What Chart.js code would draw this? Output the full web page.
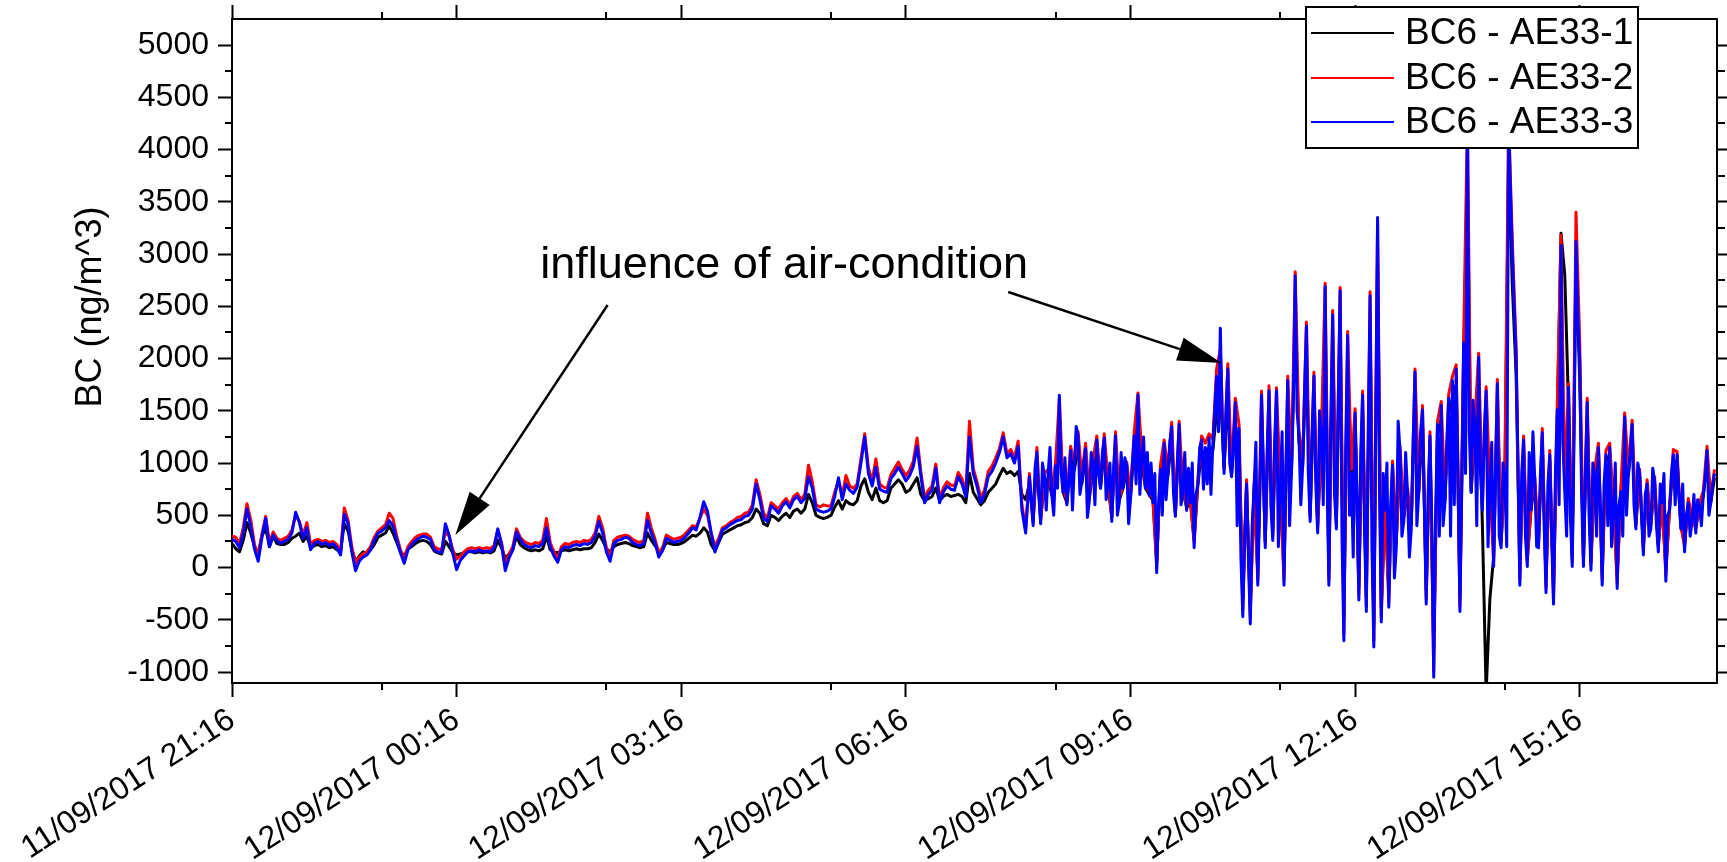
<!DOCTYPE html>
<html>
<head>
<meta charset="utf-8">
<script src="https://cdn.jsdelivr.net/npm/chart.js@4.4.0/dist/chart.umd.min.js"></script>
<style>
html,body{margin:0;padding:0;background:#fff;}
#wrap{position:relative;width:1727px;height:862px;}
</style>
</head>
<body>
<div id="wrap"><canvas id="c"></canvas></div>
<script>
// ---------- data ----------
const SAMPLE_STEP_MIN = 3;            // one reading every 3 minutes, starting 11/09/2017 21:16
const SERIES_NAMES = ['BC6 - AE33-1', 'BC6 - AE33-2', 'BC6 - AE33-3'];

const AE33_1 = [
230,180,150,260,430,330,200,140,300,380,
200,300,230,220,220,240,280,300,330,250,
300,190,210,220,200,210,190,200,170,160,
420,350,170,60,110,150,130,170,220,290,
310,330,400,330,240,150,110,180,200,230,
250,260,250,220,160,140,130,250,200,140,
120,130,140,150,150,140,150,140,150,140,
160,260,190,90,130,170,300,220,190,170,
160,170,160,180,300,170,150,140,160,170,
160,170,180,170,180,180,190,240,320,260,
180,150,200,220,230,240,230,210,200,190,
200,330,260,210,150,170,240,230,220,220,
230,250,280,310,300,330,380,340,220,160,
240,320,340,360,380,400,410,430,440,480,
560,520,420,400,500,480,450,490,520,480,
540,560,520,560,700,620,500,480,470,480,
500,580,640,560,640,610,600,640,780,850,
720,650,760,640,620,640,760,800,840,800,
720,740,800,860,700,640,660,680,760,640,
680,700,680,690,700,680,620,900,720,660,
600,640,720,760,800,880,950,900,920,880,
920,700,650,800,450,1000,460,820,850,690,
930,1450,720,620,1050,930,1150,800,1060,660,
940,1120,760,1130,790,480,1150,640,760,920,
670,1150,1450,1000,760,700,640,50,900,1100,
880,1230,520,1250,730,570,630,260,790,1120,
1080,1150,1120,1500,1700,950,1600,900,1350,1200,
-300,780,-380,740,-60,1480,250,1520,320,1520,
720,-50,1600,900,2450,1200,980,2050,500,1650,
400,1200,2350,-50,2150,430,2350,-500,1980,900,
1350,-180,1500,-280,2300,-550,2950,-380,560,-250,
940,250,1060,480,720,420,1650,720,1380,-220,
1170,-800,1260,1420,640,1480,1620,1750,-250,1950,
3800,720,1270,1800,400,-1200,-300,100,1580,250,
840,3900,2700,1850,-50,1130,90,560,800,250,
1180,-120,1020,-220,1400,3200,2800,1560,90,2950,
1800,90,1450,50,880,1080,-60,1020,1080,560,
-80,720,1320,880,1260,410,870,200,780,410,
800,220,620,-20,560,1010,1020,410,220,620,
470,380,590,680,1040,620,860
];

const AE33_2 = [
300,290,230,380,610,460,220,110,320,490,
240,340,280,260,280,300,360,500,440,310,
430,220,260,270,250,260,240,250,220,150,
570,450,200,40,100,130,150,200,290,350,
380,410,520,470,300,170,80,200,250,290,
310,320,320,290,200,180,170,340,300,170,
80,110,150,180,190,180,190,180,190,180,
210,360,240,20,130,200,370,290,250,230,
220,240,230,260,470,240,150,90,200,230,
220,240,250,240,260,250,270,330,490,380,
190,100,260,290,300,310,300,270,250,240,
260,520,380,270,140,190,310,290,270,280,
290,320,360,400,390,470,560,500,330,200,
280,380,400,430,450,480,490,520,530,600,
840,700,520,470,620,590,560,620,660,600,
680,710,650,700,980,820,600,580,600,590,
590,720,830,690,880,780,760,800,1040,1280,
950,830,1040,800,770,760,890,950,1010,940,
880,930,1020,1240,920,660,740,780,990,660,
760,820,790,780,910,850,720,1400,950,820,
670,740,920,970,1050,1140,1290,1090,1130,1050,
1210,600,380,900,430,1150,450,900,940,720,
1010,1620,760,640,1160,1010,1300,860,1190,680,
1030,1260,790,1280,830,480,1300,660,790,1010,
690,1300,1670,1090,800,720,660,0,980,1220,
930,1390,530,1400,760,590,650,240,840,1260,
1190,1280,1230,1900,2090,950,1950,910,1620,1370,
-400,840,-480,800,-120,1690,240,1740,300,1720,
760,-120,1830,940,2830,1300,1020,2350,480,1870,
380,1300,2720,-120,2460,420,2680,-640,2260,940,
1520,-260,1690,-370,2640,-700,3300,-470,590,-330,
1020,240,1160,480,760,420,1900,760,1550,-300,
1300,-990,1400,1590,660,1660,1830,1940,-370,2200,
4300,760,1410,2050,600,1730,760,60,1800,240,
900,4300,3120,2100,-120,1260,60,590,870,240,
1330,-190,1120,-300,1550,3180,770,1760,60,3400,
2150,60,1620,30,940,1190,-120,1120,1190,590,
-150,760,1480,940,1410,410,940,170,840,410,
870,200,660,-80,590,1130,1110,410,200,660,
480,370,620,730,1160,660,940
];

const AE33_3 = [
270,250,190,330,560,400,180,60,290,470,
200,310,260,230,250,270,330,530,430,280,
380,170,230,250,220,240,210,230,190,120,
510,420,150,-30,60,100,120,170,260,330,
350,380,450,400,270,140,40,170,220,260,
280,300,290,270,170,150,140,420,310,130,
-20,70,110,150,160,150,170,150,160,150,
190,370,220,-30,90,170,340,270,220,200,
190,210,200,230,380,200,110,50,170,200,
190,210,220,210,230,220,240,300,440,330,
150,60,230,260,270,290,280,240,220,210,
230,450,330,240,100,160,280,260,240,250,
260,290,330,380,360,480,630,540,330,150,
250,360,380,410,430,450,460,490,500,560,
800,650,470,440,590,560,520,590,630,570,
650,680,620,660,870,760,560,540,530,540,
560,680,860,650,800,740,710,770,1000,1250,
900,780,960,750,730,720,850,900,960,900,
830,880,970,1160,880,620,700,740,950,620,
720,780,750,740,870,800,680,1250,900,780,
620,700,870,920,1000,1100,1250,1050,1090,1000,
1160,550,330,870,400,1100,420,870,900,690,
975,1650,720,600,1120,975,1260,830,1140,640,
990,1220,760,1240,800,440,1260,620,760,975,
650,1260,1650,1050,760,690,620,-50,940,1190,
900,1350,490,1370,725,546,620,190,800,1220,
1150,1240,1190,1830,2290,900,1900,870,1580,1330,
-470,800,-540,760,-170,1650,190,1690,260,1690,
725,-170,1790,900,2790,1260,980,2310,440,1830,
330,1260,2690,-170,2420,370,2650,-700,2220,900,
1480,-310,1650,-420,2600,-760,3350,-520,550,-380,
980,190,1120,440,720,370,1870,720,1510,-350,
1260,-1050,1370,1550,620,1620,1790,1900,-420,2150,
4300,720,1370,2010,550,1690,725,10,1760,190,
860,4300,3000,2050,-170,1220,10,550,830,190,
1290,-240,1080,-350,1510,3080,725,1725,10,3120,
1975,10,1580,-25,900,1150,-170,1080,1150,550,
-200,725,1440,900,1370,370,900,120,800,370,
830,150,620,-130,550,1080,1080,370,150,620,
440,330,580,690,1120,620,900
];

// extra AE33-3 readings in the noisy part, half-way between samples 214..395 (i.e. at 3*i + 1.5 min)
const AE33_3_MID_FIRST = 214;
const AE33_3_MID = [
950,700,1000,550,1150,500,760,900,1050,800,
550,1350,700,1000,480,1100,600,900,1100,650,
1000,950,500,1100,1050,420,1000,800,700,1250,
1100,1000,900,600,500,650,1200,700,1000,600,
1100,950,1000,700,1150,750,800,700,1500,1300,
1400,1500,1000,1200,400,100,300,100,400,1200,
600,900,1100,600,1200,200,1300,900,400,1600,
1500,600,1700,900,1300,800,1500,600,900,1400,
700,1600,300,1200,500,100,700,1100,400,1300,
200,1400,800,900,1000,600,-100,1400,300,1100,
100,1200,400,1300,600,700,400,500,300,400,
1200,300,600,900,800,900,1300,1600,400,900,
1300,200,1200,900,300,1000,200,3600,2500,1000,
900,300,1100,1300,200,900,400,800,300,900,
600,1200,300,500,1300,2400,700,900,500,1000,
300,600,800,400,200,1000,600,300,500,1100,
600,1000,500,700,300,950,400,800,900,500,
900,600,700,800,500,300,700,650,400,850,
500,800
];

// axis ticks (x in minutes after 11/09/2017 21:16)
const X_MAJOR_MIN = [0, 180, 360, 540, 720, 900, 1080];
const X_MAJOR_LABELS = ['11/09/2017 21:16', '12/09/2017 00:16', '12/09/2017 03:16', '12/09/2017 06:16',
                        '12/09/2017 09:16', '12/09/2017 12:16', '12/09/2017 15:16'];
const X_MINOR_MIN = [120, 300, 480, 660, 840, 1020];
const Y_MAJOR = [-1000, -500, 0, 500, 1000, 1500, 2000, 2500, 3000, 3500, 4000, 4500, 5000];
const Y_LABELS = ['-1000', '-500', '0', '500', '1000', '1500', '2000', '2500', '3000', '3500', '4000', '4500', '5000'];
const Y_MINOR = [-750, -250, 250, 750, 1250, 1750, 2250, 2750, 3250, 3750, 4250, 4750];
const X_MIN = 0, X_MAX = 1190, Y_MIN = -1105, Y_MAX = 5250;

// annotation (data coordinates: minutes, ng/m^3)
const NOTE_TEXT = 'influence of air-condition';
const NOTE_AT = [247, 2770];
const NOTE_ARROWS = [
  {from: [301, 2513], to: [179, 311]},
  {from: [622, 2637], to: [793, 1958]}
];
const Y_TITLE = 'BC (ng/m^3)';

// ---------- chart ----------
const FONT = "'Liberation Sans', Arial, Helvetica, sans-serif";
const COLORS = ['#000000', '#ff0000', '#0000ff'];
const pts = arr => arr.map((v, i) => ({x: i * SAMPLE_STEP_MIN, y: v}));
const bluePts = pts(AE33_3)
  .concat(AE33_3_MID.map((v, j) => ({x: (AE33_3_MID_FIRST + j) * SAMPLE_STEP_MIN + SAMPLE_STEP_MIN / 2, y: v})))
  .sort((a, b) => a.x - b.x);

const W = 1727, H = 862;
const AREA = {left: 232, top: 19, right: 1717, bottom: 683};

const gridOpts = {display: true, drawOnChartArea: false, drawTicks: true, tickLength: 14, tickWidth: 2, tickColor: '#000'};
const borderOpts = {display: true, color: '#000', width: 2};

const decor = {
  id: 'decor',
  afterDraw(chart) {
    const {ctx, chartArea: a, scales} = chart;
    const xs = scales.x, ys = scales.y;
    ctx.save();
    // minor ticks on all four sides
    ctx.strokeStyle = '#000'; ctx.lineWidth = 2; ctx.beginPath();
    X_MINOR_MIN.forEach(v => {
      const px = Math.round(xs.getPixelForValue(v));
      ctx.moveTo(px, a.bottom); ctx.lineTo(px, a.bottom + 7);
      ctx.moveTo(px, a.top); ctx.lineTo(px, a.top - 7);
    });
    Y_MINOR.forEach(v => {
      const py = Math.round(ys.getPixelForValue(v));
      ctx.moveTo(a.left, py); ctx.lineTo(a.left - 7, py);
      ctx.moveTo(a.right, py); ctx.lineTo(a.right + 8, py);
    });
    ctx.stroke();

    // y title
    ctx.save();
    ctx.translate(91, 307); ctx.rotate(-Math.PI / 2);
    ctx.fillStyle = '#000'; ctx.font = '36px ' + FONT;
    ctx.textAlign = 'center'; ctx.textBaseline = 'middle';
    ctx.fillText(Y_TITLE, 0, 0);
    ctx.restore();

    // annotation text and arrows
    ctx.fillStyle = '#000'; ctx.strokeStyle = '#000';
    ctx.font = '45px ' + FONT; ctx.textAlign = 'left'; ctx.textBaseline = 'alphabetic';
    ctx.fillText(NOTE_TEXT, xs.getPixelForValue(NOTE_AT[0]), ys.getPixelForValue(NOTE_AT[1]));
    NOTE_ARROWS.forEach(ar => {
      const x1 = xs.getPixelForValue(ar.from[0]), y1 = ys.getPixelForValue(ar.from[1]);
      const x2 = xs.getPixelForValue(ar.to[0]), y2 = ys.getPixelForValue(ar.to[1]);
      const ang = Math.atan2(y2 - y1, x2 - x1), L = 44, HW = 12;
      const bx = x2 - L * Math.cos(ang), by = y2 - L * Math.sin(ang);
      ctx.lineWidth = 2.5; ctx.beginPath(); ctx.moveTo(x1, y1); ctx.lineTo(bx, by); ctx.stroke();
      ctx.beginPath(); ctx.moveTo(x2, y2);
      ctx.lineTo(bx + HW * Math.sin(ang), by - HW * Math.cos(ang));
      ctx.lineTo(bx - HW * Math.sin(ang), by + HW * Math.cos(ang));
      ctx.closePath(); ctx.fill();
    });

    // legend
    const lx = 1306, ly = 7, lw = 332, lh = 141;
    ctx.fillStyle = '#fff'; ctx.fillRect(lx, ly, lw, lh);
    ctx.lineWidth = 2; ctx.strokeStyle = '#000'; ctx.strokeRect(lx, ly, lw, lh);
    const rows = [33, 78, 122];
    ctx.font = '37px ' + FONT; ctx.textBaseline = 'middle'; ctx.textAlign = 'left';
    SERIES_NAMES.forEach((n, k) => {
      ctx.strokeStyle = COLORS[k]; ctx.lineWidth = 2;
      ctx.beginPath(); ctx.moveTo(1311, rows[k]); ctx.lineTo(1394, rows[k]); ctx.stroke();
      ctx.fillStyle = '#000'; ctx.fillText(n, 1405, rows[k] + 1);
    });
    ctx.restore();
  }
};

const setXTicks = s => { s.ticks = X_MAJOR_MIN.map(v => ({value: v})); };
const setYTicks = s => { s.ticks = Y_MAJOR.map(v => ({value: v})); };
const noPad = s => { s.paddingTop = 0; s.paddingBottom = 0; s.paddingLeft = 0; s.paddingRight = 0; };

new Chart(document.getElementById('c'), {
  type: 'line',
  data: {
    datasets: [
      {label: SERIES_NAMES[0], data: pts(AE33_1), borderColor: COLORS[0], order: 3},
      {label: SERIES_NAMES[1], data: pts(AE33_2), borderColor: COLORS[1], order: 2},
      {label: SERIES_NAMES[2], data: bluePts, borderColor: COLORS[2], order: 1}
    ]
  },
  options: {
    responsive: true, maintainAspectRatio: false, animation: false, devicePixelRatio: 1,
    events: [],
    layout: {padding: 0},
    elements: {
      line: {borderWidth: 3, tension: 0, fill: false, borderJoinStyle: 'round'},
      point: {radius: 0, hoverRadius: 0}
    },
    plugins: {legend: {display: false}, tooltip: {enabled: false}, title: {display: false}},
    scales: {
      x: {
        type: 'linear', position: 'bottom', min: X_MIN, max: X_MAX,
        afterBuildTicks: setXTicks,
        afterFit: s => { s.height = H - AREA.bottom; noPad(s); },
        grid: gridOpts, border: borderOpts,
        ticks: {autoSkip: false, minRotation: 33, maxRotation: 33, padding: 4, color: '#000',
                font: {family: FONT, size: 32},
                callback: (v, i) => X_MAJOR_LABELS[i]}
      },
      x2: {
        type: 'linear', position: 'top', min: X_MIN, max: X_MAX,
        afterBuildTicks: setXTicks,
        afterFit: s => { s.height = AREA.top; noPad(s); },
        grid: gridOpts, border: borderOpts, ticks: {display: false}
      },
      y: {
        type: 'linear', position: 'left', min: Y_MIN, max: Y_MAX,
        afterBuildTicks: setYTicks,
        afterFit: s => { s.width = AREA.left; noPad(s); },
        grid: gridOpts, border: borderOpts,
        ticks: {padding: 9, color: '#000', font: {family: FONT, size: 32},
                callback: (v, i) => Y_LABELS[i]}
      },
      y2: {
        type: 'linear', position: 'right', min: Y_MIN, max: Y_MAX,
        afterBuildTicks: setYTicks,
        afterFit: s => { s.width = W - AREA.right; noPad(s); },
        grid: gridOpts, border: borderOpts, ticks: {display: false}
      }
    }
  },
  plugins: [decor]
});
</script>
</body>
</html>
